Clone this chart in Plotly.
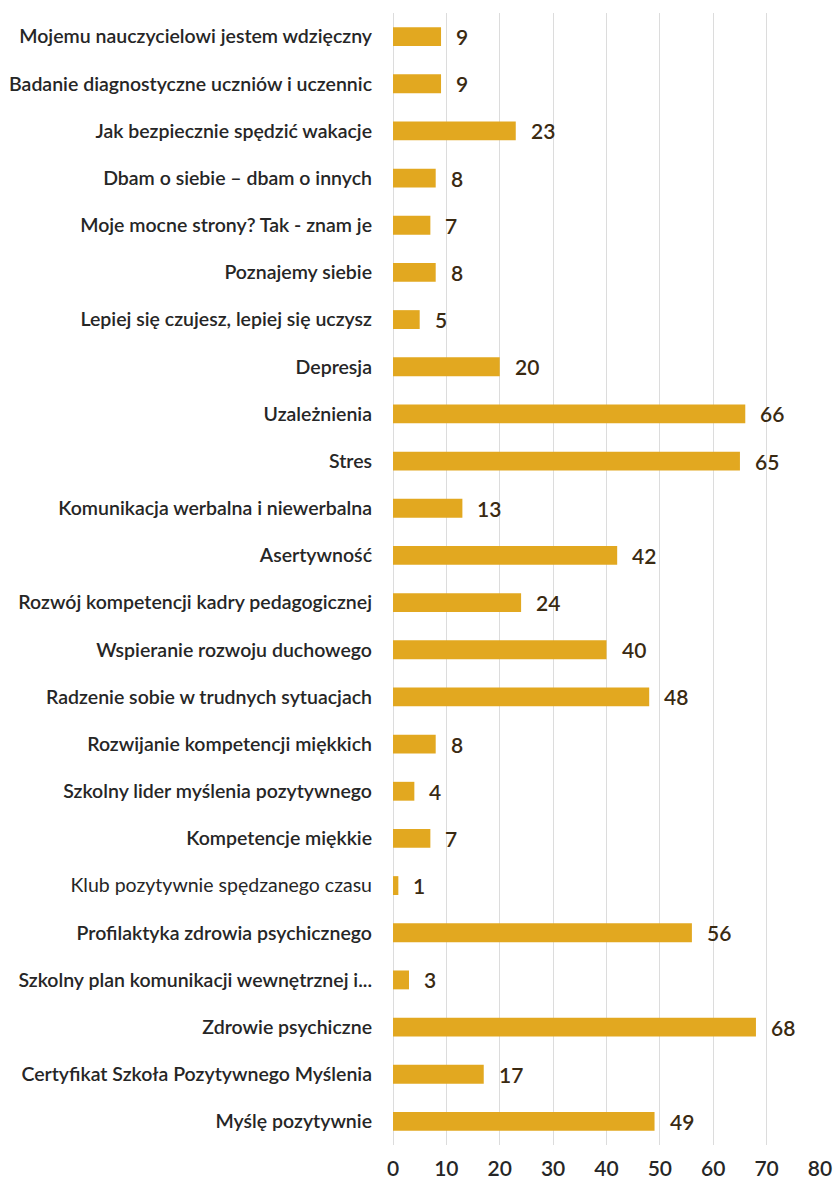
import plotly.graph_objects as go

categories = [
    "Mojemu nauczycielowi jestem wdzięczny",
    "Badanie diagnostyczne uczniów i uczennic",
    "Jak bezpiecznie spędzić wakacje",
    "Dbam o siebie – dbam o innych",
    "Moje mocne strony? Tak - znam je",
    "Poznajemy siebie",
    "Lepiej się czujesz, lepiej się uczysz",
    "Depresja",
    "Uzależnienia",
    "Stres",
    "Komunikacja werbalna i niewerbalna",
    "Asertywność",
    "Rozwój kompetencji kadry pedagogicznej",
    "Wspieranie rozwoju duchowego",
    "Radzenie sobie w trudnych sytuacjach",
    "Rozwijanie kompetencji miękkich",
    "Szkolny lider myślenia pozytywnego",
    "Kompetencje miękkie",
    "Klub pozytywnie spędzanego czasu",
    "Profilaktyka zdrowia psychicznego",
    "Szkolny plan komunikacji wewnętrznej i...",
    "Zdrowie psychiczne",
    "Certyfikat Szkoła Pozytywnego Myślenia",
    "Myślę pozytywnie",
]
values = [9, 9, 23, 8, 7, 8, 5, 20, 66, 65, 13, 42, 24, 40, 48, 8, 4, 7, 1, 56, 3, 68, 17, 49]
x_ticks = [0, 10, 20, 30, 40, 50, 60, 70, 80]

BAR = "#E2A820"
TEXT = "#262626"
VALUE = "#3A2A12"
FONT = "Lato"

# one label is set in regular weight, the rest semibold
tick_text = [
    f'<span style="font-weight:400">{c}</span>' if c.startswith("Klub") else c
    for c in categories
]

fig = go.Figure(
    go.Bar(
        x=values,
        y=categories,
        orientation="h",
        marker=dict(color=BAR, line=dict(width=0)),
        hoverinfo="x+y",
    )
)

for c, v in zip(categories, values):
    fig.add_annotation(
        x=v, y=c, text=str(v), showarrow=False,
        xanchor="left", xshift=13,
        font=dict(family=FONT, size=21, color=VALUE, weight=600),
    )

fig.update_layout(
    width=834, height=1185,
    margin=dict(l=393, r=14, t=13, b=40),
    paper_bgcolor="white", plot_bgcolor="white",
    bargap=0.6,
    showlegend=False,
    font=dict(family=FONT, color=TEXT),
)
fig.update_xaxes(
    range=[0, 80], tickvals=x_ticks, ticktext=[str(t) for t in x_ticks],
    showgrid=True, gridcolor="#DCDCDC", gridwidth=1,
    zeroline=True, zerolinecolor="#DCDCDC", zerolinewidth=1,
    showline=False, ticks="", ticklabelstandoff=9, automargin=False,
    tickfont=dict(family=FONT, size=21, color=TEXT, weight=600),
)
fig.update_yaxes(
    categoryorder="array", categoryarray=categories, autorange="reversed",
    tickvals=categories, ticktext=tick_text,
    ticks="", showline=False, ticklabelstandoff=20, automargin=False,
    tickfont=dict(family=FONT, size=19.5, color=TEXT, weight=600),
)

fig.write_html("out.html")
